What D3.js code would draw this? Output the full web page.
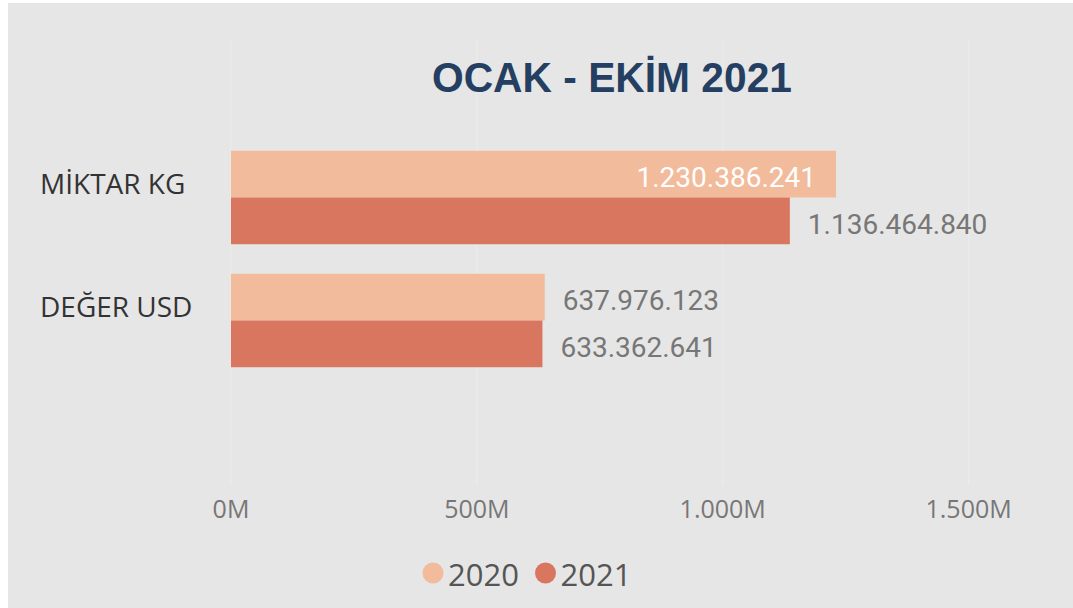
<!DOCTYPE html>
<html lang="tr">
<head>
<meta charset="utf-8">
<title>Ocak - Ekim 2021</title>
<script src="https://cdn.jsdelivr.net/npm/d3@7"></script>
<style>
  html, body { margin: 0; padding: 0; background: #fff; }
  svg { display: block; }
</style>
</head>
<body>
<script>
// data
const categories = ["MİKTAR KG", "DEĞER USD"];
const years = ["2020", "2021"];
const values2020 = [1230386241, 637976123];
const values2021 = [1136464840, 633362641];
const xTicks = [0, 500e6, 1000e6, 1500e6];
const colors = ["#f2bb9c", "#d9765f"];

const w = 1073, h = 608;

const svg = d3.select("body").append("svg")
  .attr("width", w)
  .attr("height", h);

// panel background
svg.append("rect")
  .attr("x", 8).attr("y", 3)
  .attr("width", w - 8).attr("height", h - 3)
  .attr("fill", "#e6e6e6");

const x = d3.scaleLinear().domain([0, 1500e6]).range([231, 968.6]);

const y = d3.scaleBand()
  .domain(categories)
  .range([136, 382])
  .paddingInner(0.24)
  .paddingOuter(0.12);

const ySub = d3.scaleBand().domain(years).range([0, y.bandwidth()]);

const fmt = d3.formatLocale({ decimal: ",", thousands: ".", grouping: [3], currency: ["", ""] }).format(",d");

// gridlines
svg.append("g").selectAll("line")
  .data(xTicks)
  .enter().append("line")
  .attr("x1", d => x(d)).attr("x2", d => x(d))
  .attr("y1", 40).attr("y2", 485)
  .attr("stroke", "#ececec")
  .attr("stroke-width", 1);

// title
svg.append("text")
  .attr("x", 612).attr("y", 92)
  .attr("text-anchor", "middle")
  .attr("font-family", "Liberation Sans, Arial, sans-serif")
  .attr("font-weight", "bold")
  .attr("font-size", "42px")
  .attr("textLength", 360)
  .attr("lengthAdjust", "spacingAndGlyphs")
  .attr("fill", "#243f62")
  .text("OCAK - EKİM 2021");

// bars
const rows = categories.map((c, i) => ({
  cat: c,
  vals: [
    { year: years[0], v: values2020[i] },
    { year: years[1], v: values2021[i] }
  ]
}));

const groups = svg.selectAll("g.cat")
  .data(rows)
  .enter().append("g")
  .attr("class", "cat")
  .attr("transform", d => `translate(0,${y(d.cat)})`);

groups.selectAll("rect")
  .data(d => d.vals)
  .enter().append("rect")
  .attr("x", x(0))
  .attr("y", d => ySub(d.year))
  .attr("width", d => x(d.v) - x(0))
  .attr("height", ySub.bandwidth())
  .attr("fill", (d, i) => colors[i]);

// value labels (inside the bar when there is no room after it)
groups.selectAll("text.val")
  .data(d => d.vals)
  .enter().append("text")
  .attr("class", "val")
  .attr("font-family", "Roboto, sans-serif")
  .attr("font-size", "28px")
  .attr("y", d => ySub(d.year) + ySub.bandwidth() / 2 + 13)
  .each(function (d) {
    const inside = x(d.v) + 200 > x(1500e6) + 60;
    d3.select(this)
      .attr("x", inside ? x(d.v) - 20 : x(d.v) + 18)
      .attr("text-anchor", inside ? "end" : "start")
      .attr("fill", inside ? "#ffffff" : "#777777");
  })
  .text(d => fmt(d.v));

// category labels
svg.selectAll("text.cat")
  .data(categories)
  .enter().append("text")
  .attr("class", "cat")
  .attr("x", 40)
  .attr("y", d => y(d) + y.bandwidth() / 2 - 4)
  .attr("font-family", "Open Sans, sans-serif")
  .attr("font-size", "28px")
  .attr("fill", "#333333")
  .text(d => d);

// x axis labels
svg.selectAll("text.tick")
  .data(xTicks)
  .enter().append("text")
  .attr("class", "tick")
  .attr("x", d => x(d))
  .attr("y", 518)
  .attr("text-anchor", "middle")
  .attr("font-family", "Open Sans, sans-serif")
  .attr("font-size", "25px")
  .attr("fill", "#777777")
  .text(d => fmt(d / 1e6) + "M");

// legend
const legendX = [433, 545.5];
const legend = svg.selectAll("g.legend")
  .data(years)
  .enter().append("g")
  .attr("class", "legend")
  .attr("transform", (d, i) => `translate(${legendX[i]},573)`);

legend.append("circle")
  .attr("r", 10.5)
  .attr("fill", (d, i) => colors[i]);

legend.append("text")
  .attr("x", 15)
  .attr("y", 13)
  .attr("font-family", "Open Sans, sans-serif")
  .attr("font-size", "31px")
  .attr("fill", "#555555")
  .text(d => d);
</script>
</body>
</html>
